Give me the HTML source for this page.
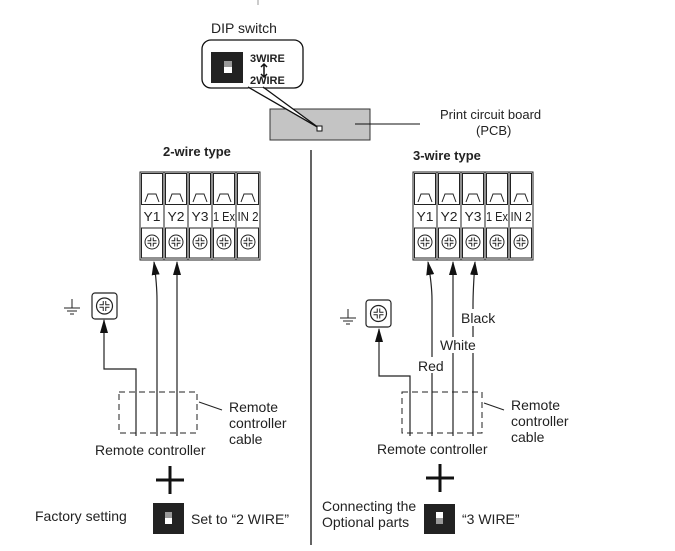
<!DOCTYPE html>
<html><head><meta charset="utf-8"><style>
body{margin:0;background:#fff}
svg{display:block}
text{font-family:"Liberation Sans",sans-serif;fill:#222}
</style></head><body>
<svg width="675" height="551" viewBox="0 0 675 551" xmlns="http://www.w3.org/2000/svg">
<defs>
<marker id="ah" markerWidth="14" markerHeight="8" refX="13" refY="4" orient="auto" markerUnits="userSpaceOnUse" viewBox="0 0 14 8">
<path d="M0,0 L14,4 L0,8 Z" fill="#111"/></marker>
</defs>
<line x1="258" y1="0" x2="258" y2="5" stroke="#999" stroke-width="1"/>
<text x="211" y="33" font-size="14">DIP switch</text>
<rect x="202" y="40" width="101" height="48" rx="9" fill="#fff" stroke="#111" stroke-width="1.3"/>
<rect x="211" y="52" width="32" height="31" fill="#222"/>
<rect x="224" y="61" width="8" height="6" fill="#999"/>
<rect x="224" y="67" width="8" height="6" fill="#fff"/>
<text x="250" y="62" font-size="11" font-weight="bold">3WIRE</text>
<path d="M264,65 V76 M261,67 L264,64 L267,67 M261,74 L264,77 L267,74" stroke="#111" stroke-width="1.5" fill="none"/>
<text x="250" y="84" font-size="11" font-weight="bold">2WIRE</text>
<rect x="270" y="109" width="100" height="31" fill="#c4c4c4" stroke="#333" stroke-width="1"/>
<path d="M248,88 L263,88 L319,128 Z" fill="#fff" stroke="none"/>
<line x1="248" y1="87" x2="319" y2="128" stroke="#111" stroke-width="1.3"/>
<line x1="263" y1="87" x2="319" y2="128" stroke="#111" stroke-width="1.3"/>
<rect x="317" y="126" width="5" height="5" fill="#fff" stroke="#111" stroke-width="1"/>
<line x1="355" y1="124" x2="420" y2="124" stroke="#111" stroke-width="1"/>
<text x="440" y="119" font-size="13">Print circuit board</text>
<text x="476" y="135" font-size="13">(PCB)</text>
<line x1="311" y1="150" x2="311" y2="545" stroke="#111" stroke-width="1.3"/>
<text x="163" y="156" font-size="13" font-weight="bold">2-wire type</text>
<text x="413" y="160" font-size="13" font-weight="bold">3-wire type</text>

<g transform="translate(140,172)" stroke="#222" stroke-width="1" fill="none">
<rect x="0" y="0" width="120" height="88" fill="#fff"/>
<g><rect x="1.5" y="1.5" width="21" height="31"/><path d="M5,30 L8,22 H16 L19,30"/><rect x="1.5" y="56" width="21" height="30"/><circle cx="12" cy="70" r="7"/><path d="M7.5,70 H16.5 M12,65.5 V74.5" stroke-width="3.5"/><path d="M7.5,70 H16.5 M12,65.5 V74.5" stroke-width="1.5" stroke="#fff"/></g>
<g transform="translate(24,0)"><rect x="1.5" y="1.5" width="21" height="31"/><path d="M5,30 L8,22 H16 L19,30"/><rect x="1.5" y="56" width="21" height="30"/><circle cx="12" cy="70" r="7"/><path d="M7.5,70 H16.5 M12,65.5 V74.5" stroke-width="3.5"/><path d="M7.5,70 H16.5 M12,65.5 V74.5" stroke-width="1.5" stroke="#fff"/></g>
<g transform="translate(48,0)"><rect x="1.5" y="1.5" width="21" height="31"/><path d="M5,30 L8,22 H16 L19,30"/><rect x="1.5" y="56" width="21" height="30"/><circle cx="12" cy="70" r="7"/><path d="M7.5,70 H16.5 M12,65.5 V74.5" stroke-width="3.5"/><path d="M7.5,70 H16.5 M12,65.5 V74.5" stroke-width="1.5" stroke="#fff"/></g>
<g transform="translate(72,0)"><rect x="1.5" y="1.5" width="21" height="31"/><path d="M5,30 L8,22 H16 L19,30"/><rect x="1.5" y="56" width="21" height="30"/><circle cx="12" cy="70" r="7"/><path d="M7.5,70 H16.5 M12,65.5 V74.5" stroke-width="3.5"/><path d="M7.5,70 H16.5 M12,65.5 V74.5" stroke-width="1.5" stroke="#fff"/></g>
<g transform="translate(96,0)"><rect x="1.5" y="1.5" width="21" height="31"/><path d="M5,30 L8,22 H16 L19,30"/><rect x="1.5" y="56" width="21" height="30"/><circle cx="12" cy="70" r="7"/><path d="M7.5,70 H16.5 M12,65.5 V74.5" stroke-width="3.5"/><path d="M7.5,70 H16.5 M12,65.5 V74.5" stroke-width="1.5" stroke="#fff"/></g>
<line x1="24" y1="0" x2="24" y2="88"/><line x1="48" y1="0" x2="48" y2="88"/><line x1="72" y1="0" x2="72" y2="88"/><line x1="96" y1="0" x2="96" y2="88"/>
<g stroke="none" fill="#222" font-size="13" font-family="Liberation Sans,sans-serif" text-anchor="middle">
<text x="12" y="49" textLength="17" lengthAdjust="spacingAndGlyphs">Y1</text><text x="36" y="49" textLength="17" lengthAdjust="spacingAndGlyphs">Y2</text><text x="60" y="49" textLength="17" lengthAdjust="spacingAndGlyphs">Y3</text><text x="84" y="49" textLength="22" lengthAdjust="spacingAndGlyphs">1 Ex</text><text x="108" y="49" textLength="21" lengthAdjust="spacingAndGlyphs">IN 2</text>
</g>
</g>
<g transform="translate(413,172)" stroke="#222" stroke-width="1" fill="none">
<rect x="0" y="0" width="120" height="88" fill="#fff"/>
<g><rect x="1.5" y="1.5" width="21" height="31"/><path d="M5,30 L8,22 H16 L19,30"/><rect x="1.5" y="56" width="21" height="30"/><circle cx="12" cy="70" r="7"/><path d="M7.5,70 H16.5 M12,65.5 V74.5" stroke-width="3.5"/><path d="M7.5,70 H16.5 M12,65.5 V74.5" stroke-width="1.5" stroke="#fff"/></g>
<g transform="translate(24,0)"><rect x="1.5" y="1.5" width="21" height="31"/><path d="M5,30 L8,22 H16 L19,30"/><rect x="1.5" y="56" width="21" height="30"/><circle cx="12" cy="70" r="7"/><path d="M7.5,70 H16.5 M12,65.5 V74.5" stroke-width="3.5"/><path d="M7.5,70 H16.5 M12,65.5 V74.5" stroke-width="1.5" stroke="#fff"/></g>
<g transform="translate(48,0)"><rect x="1.5" y="1.5" width="21" height="31"/><path d="M5,30 L8,22 H16 L19,30"/><rect x="1.5" y="56" width="21" height="30"/><circle cx="12" cy="70" r="7"/><path d="M7.5,70 H16.5 M12,65.5 V74.5" stroke-width="3.5"/><path d="M7.5,70 H16.5 M12,65.5 V74.5" stroke-width="1.5" stroke="#fff"/></g>
<g transform="translate(72,0)"><rect x="1.5" y="1.5" width="21" height="31"/><path d="M5,30 L8,22 H16 L19,30"/><rect x="1.5" y="56" width="21" height="30"/><circle cx="12" cy="70" r="7"/><path d="M7.5,70 H16.5 M12,65.5 V74.5" stroke-width="3.5"/><path d="M7.5,70 H16.5 M12,65.5 V74.5" stroke-width="1.5" stroke="#fff"/></g>
<g transform="translate(96,0)"><rect x="1.5" y="1.5" width="21" height="31"/><path d="M5,30 L8,22 H16 L19,30"/><rect x="1.5" y="56" width="21" height="30"/><circle cx="12" cy="70" r="7"/><path d="M7.5,70 H16.5 M12,65.5 V74.5" stroke-width="3.5"/><path d="M7.5,70 H16.5 M12,65.5 V74.5" stroke-width="1.5" stroke="#fff"/></g>
<line x1="24" y1="0" x2="24" y2="88"/><line x1="48" y1="0" x2="48" y2="88"/><line x1="72" y1="0" x2="72" y2="88"/><line x1="96" y1="0" x2="96" y2="88"/>
<g stroke="none" fill="#222" font-size="13" font-family="Liberation Sans,sans-serif" text-anchor="middle">
<text x="12" y="49" textLength="17" lengthAdjust="spacingAndGlyphs">Y1</text><text x="36" y="49" textLength="17" lengthAdjust="spacingAndGlyphs">Y2</text><text x="60" y="49" textLength="17" lengthAdjust="spacingAndGlyphs">Y3</text><text x="84" y="49" textLength="22" lengthAdjust="spacingAndGlyphs">1 Ex</text><text x="108" y="49" textLength="21" lengthAdjust="spacingAndGlyphs">IN 2</text>
</g>
</g>

<g stroke="#222" stroke-width="1.2" fill="none">
<path d="M136,436 V369 H104 V320" marker-end="url(#ah)"/>
<path d="M157,436 V300 Q157,285 154,262" marker-end="url(#ah)"/>
<path d="M177,436 V262" marker-end="url(#ah)"/>
<rect x="119" y="392" width="78" height="41" stroke-dasharray="6,4" stroke-width="1"/>
<line x1="199" y1="402" x2="222" y2="410" stroke-width="1"/>
<rect x="92" y="293" width="25" height="26" rx="3"/>
<circle cx="104.5" cy="306" r="8"/>
<path d="M99.5,306 H109.5 M104.5,301 V311" stroke-width="3.5"/>
<path d="M99.5,306 H109.5 M104.5,301 V311" stroke-width="1.5" stroke="#fff"/>
<path d="M72,299 V308 M64,308 H80 M67,311 H77 M70,314 H74" stroke-width="1"/>
<path d="M410,436 V376 H379 V329" marker-end="url(#ah)"/>
<path d="M432,436 V300 Q432,285 428,262" marker-end="url(#ah)"/>
<path d="M453,436 V262" marker-end="url(#ah)"/>
<path d="M473,436 V305 Q473,290 475,262" marker-end="url(#ah)"/>
<rect x="402" y="392" width="80" height="41" stroke-dasharray="6,4" stroke-width="1"/>
<line x1="484" y1="403" x2="504" y2="410" stroke-width="1"/>
<rect x="366" y="300" width="25" height="27" rx="3"/>
<circle cx="378.5" cy="313.5" r="8"/>
<path d="M373.5,313.5 H383.5 M378.5,308.5 V318.5" stroke-width="3.5"/>
<path d="M373.5,313.5 H383.5 M378.5,308.5 V318.5" stroke-width="1.5" stroke="#fff"/>
<path d="M348,309 V318 M340,318 H356 M343,321 H353 M346,324 H350" stroke-width="1"/>
</g>
<rect x="416" y="357" width="30" height="16" fill="#fff"/>
<rect x="438" y="337" width="42" height="16" fill="#fff"/>
<rect x="460" y="309" width="40" height="17" fill="#fff"/>
<text x="418" y="371" font-size="14">Red</text>
<text x="440" y="350" font-size="14">White</text>
<text x="461" y="323" font-size="14">Black</text>

<g font-size="14">
<text x="229" y="412">Remote</text><text x="229" y="428">controller</text><text x="229" y="444">cable</text>
<text x="511" y="410">Remote</text><text x="511" y="426">controller</text><text x="511" y="442">cable</text>
<text x="95" y="455">Remote controller</text>
<text x="377" y="454">Remote controller</text>
<text x="35" y="521">Factory setting</text>
<text x="191" y="524">Set to “2 WIRE”</text>
<text x="322" y="511">Connecting the</text>
<text x="322" y="527">Optional parts</text>
<text x="462" y="524">“3 WIRE”</text>
</g>
<path d="M156,480 H184 M170,466 V494" stroke="#111" stroke-width="3"/>
<path d="M426,478 H454 M440,464 V492" stroke="#111" stroke-width="3"/>
<rect x="153" y="503" width="31" height="31" fill="#222"/>
<rect x="165" y="512" width="7" height="6" fill="#999"/>
<rect x="165" y="518" width="7" height="6" fill="#fff"/>
<rect x="424" y="504" width="31" height="30" fill="#222"/>
<rect x="436" y="512" width="7" height="6" fill="#fff"/>
<rect x="436" y="518" width="7" height="6" fill="#999"/>
</svg>
</body></html>
